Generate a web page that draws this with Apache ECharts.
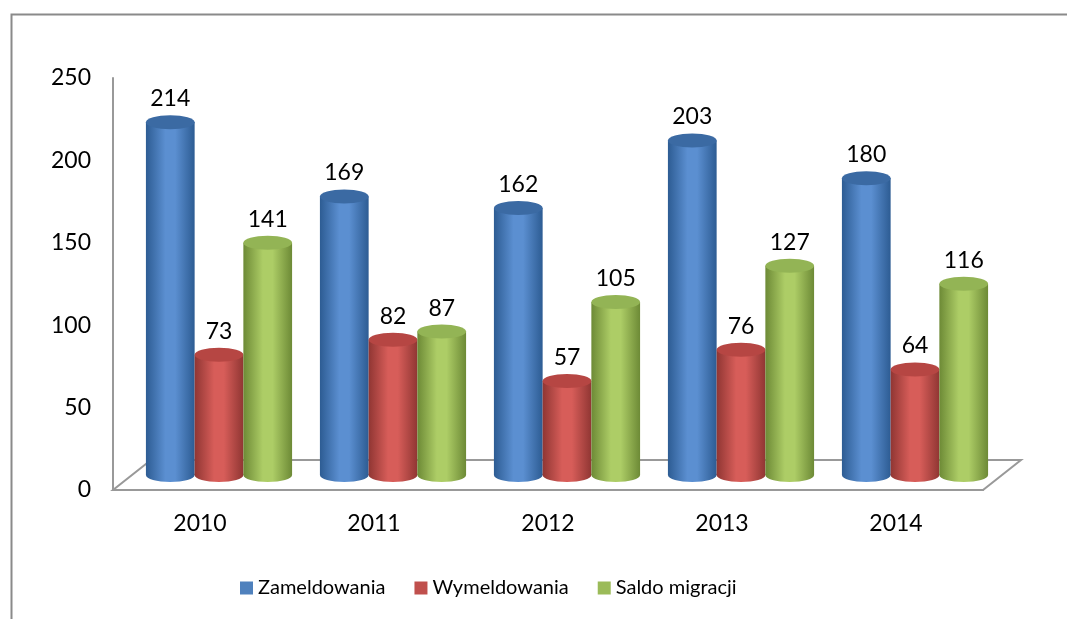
<!DOCTYPE html>
<html>
<head>
<meta charset="utf-8">
<script src="https://cdn.jsdelivr.net/npm/echarts@6/dist/echarts.min.js"></script>
<style>
  html, body { margin: 0; padding: 0; background: #fff; }
  #chart { width: 1067px; height: 619px; }
</style>
</head>
<body>
<div id="chart"></div>
<script>
const years = ['2010', '2011', '2012', '2013', '2014']
const zameldowania = [214, 169, 162, 203, 180]
const wymeldowania = [73, 82, 57, 76, 64]
const saldo = [141, 87, 105, 127, 116]
const seriesNames = ['Zameldowania', 'Wymeldowania', 'Saldo migracji']

// colours: [edge, middle, top, legend]
const palette = [
  ['#2d5c93', '#5b8fd1', '#3b6aa3', '#4f81bd'],
  ['#903633', '#d75d59', '#b64643', '#c0504d'],
  ['#6d8a36', '#adcd66', '#93b455', '#9bbb59'],
]

const DX = 19, DY = -15, RY = 7

function cylinder(si) {
  return function (params, api) {
    const i = api.value(0)
    const v = api.value(1)
    const base = api.coord([i, 0])
    const top = api.coord([i, v])
    const band = api.size([1, 0])[0]
    const w = band * 0.28
    const cx = base[0] + DX + (si - 1) * w
    const by = base[1] + DY
    const ty = top[1] + DY
    const c = palette[si]
    const grad = new echarts.graphic.LinearGradient(0, 0, 1, 0, [
      { offset: 0, color: c[0] },
      { offset: 0.4, color: c[1] },
      { offset: 0.6, color: c[1] },
      { offset: 1, color: c[0] },
    ])
    return {
      type: 'group',
      children: [
        { type: 'ellipse', shape: { cx: cx, cy: by, rx: w / 2, ry: RY }, style: { fill: grad } },
        { type: 'rect', shape: { x: cx - w / 2, y: ty, width: w, height: by - ty }, style: { fill: grad } },
        { type: 'ellipse', shape: { cx: cx, cy: ty, rx: w / 2, ry: RY }, style: { fill: c[2] } },
        {
          type: 'text',
          style: {
            text: String(v), x: cx, y: ty - RY - 5,
            align: 'center', verticalAlign: 'bottom',
            font: '23px Lato', fill: '#000'
          }
        }
      ]
    }
  }
}

function floor(params, api) {
  const cs = params.coordSys
  const x0 = cs.x, y0 = cs.y + cs.height, x1 = cs.x + cs.width
  return {
    type: 'polygon',
    shape: { points: [[x0, y0], [x1, y0], [x1 + 2 * DX, y0 + 2 * DY], [x0 + 2 * DX, y0 + 2 * DY]] },
    style: { fill: '#fff', stroke: '#999', lineWidth: 2 }
  }
}

const allData = [zameldowania, wymeldowania, saldo]

const chart = echarts.init(document.getElementById('chart'))
chart.setOption({
  animation: false,
  textStyle: { fontFamily: 'Lato' },
  graphic: [{
    type: 'rect', left: 9, top: 12,
    shape: { width: 1100, height: 700 },
    style: { fill: 'none', stroke: '#8a8a8a', lineWidth: 2 },
    silent: true, z: -10
  }],
  legend: {
    data: seriesNames,
    left: 235, top: 573,
    icon: 'rect', itemWidth: 13, itemHeight: 13, itemGap: 29,
    textStyle: { fontSize: 20, color: '#000', fontFamily: 'Lato' }
  },
  grid: { left: 113, right: 84, top: 78, bottom: 129 },
  xAxis: {
    type: 'category',
    data: years,
    axisTick: { show: false },
    axisLine: { lineStyle: { color: '#999', width: 2 } },
    axisLabel: { fontSize: 23, color: '#000', margin: 22 }
  },
  yAxis: {
    type: 'value', min: 0, max: 250, interval: 50,
    axisLine: { show: true, lineStyle: { color: '#999', width: 2 } },
    axisTick: { show: false },
    splitLine: { show: false },
    axisLabel: { fontSize: 23, color: '#000', margin: 22 }
  },
  series: [
    {
      type: 'custom', name: 'floor', renderItem: floor, data: [[0, 0]],
      encode: { x: 0, y: 1 }, z: 1, silent: true, clip: false
    }
  ].concat(allData.map((vals, si) => ({
    type: 'custom',
    name: seriesNames[si],
    renderItem: cylinder(si),
    data: vals.map((v, i) => [i, v]),
    encode: { x: 0, y: 1 },
    itemStyle: { color: palette[si][3] },
    clip: false,
    z: 2 + si
  })))
})
</script>
</body>
</html>
